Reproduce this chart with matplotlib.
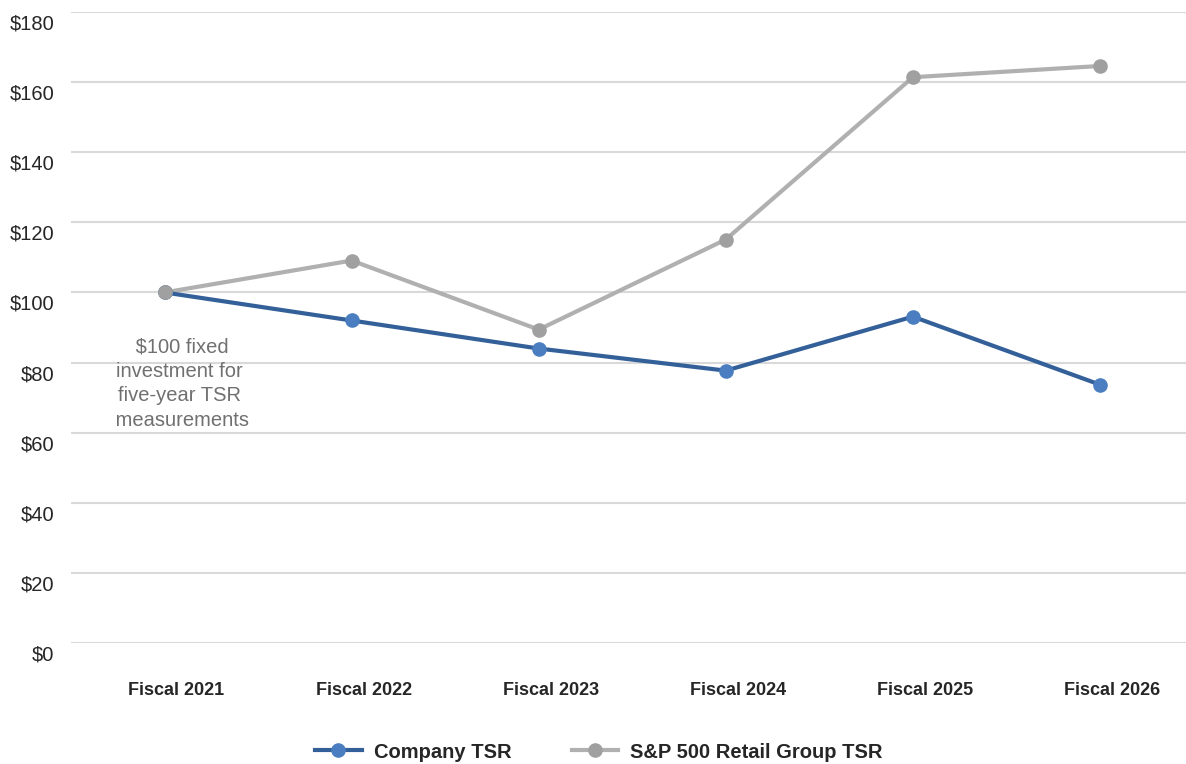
import matplotlib.pyplot as plt
import matplotlib.transforms as mtransforms

plt.rcParams['font.family'] = ['Liberation Sans', 'DejaVu Sans']

years = ["Fiscal 2021", "Fiscal 2022", "Fiscal 2023", "Fiscal 2024", "Fiscal 2025", "Fiscal 2026"]
company_tsr = [100, 92, 84, 77.7, 93.1, 73.7]
retail_tsr = [100, 109.1, 89.4, 115.1, 161.4, 164.6]
y_ticks = [0, 20, 40, 60, 80, 100, 120, 140, 160, 180]
y_labels = ["$" + str(v) for v in y_ticks]

fig = plt.figure(figsize=(11.86, 7.64), dpi=100)
ax = fig.add_axes([71 / 1186, 121 / 764, 1115 / 1186, 631 / 764])

x = list(range(len(years)))
ax.plot(x, company_tsr, color="#34609a", linewidth=3, marker="o", markersize=9.5,
        markerfacecolor="#4a7ec0", markeredgecolor="#4a7ec0", label="Company TSR", zorder=3)
ax.plot(x, retail_tsr, color="#b0b0b0", linewidth=3, marker="o", markersize=9.5,
        markerfacecolor="#a0a0a0", markeredgecolor="#a0a0a0", label="S&P 500 Retail Group TSR", zorder=2)
# grey point sits on top at the shared start
ax.plot([0], [retail_tsr[0]], "o", color="#a0a0a0", markersize=9.5, zorder=4)

ax.set_xlim(-0.5, 5.46)
ax.set_ylim(0, 180)
ax.set_xticks(x)
ax.set_xticklabels(years, fontsize=13, fontweight="bold", color="#262626")
ax.set_yticks(y_ticks)
ax.set_yticklabels(y_labels, fontsize=14.5, color="#262626")
ax.tick_params(length=0)
ax.tick_params(axis="x", pad=28)
ax.tick_params(axis="y", pad=12)

# labels sit a bit off their grid positions in the reference
y_off = mtransforms.ScaledTranslation(0, -10 / 100, fig.dpi_scale_trans)
for lab in ax.get_yticklabels():
    lab.set_transform(lab.get_transform() + y_off)
x_off = mtransforms.ScaledTranslation(12 / 100, 0, fig.dpi_scale_trans)
for lab in ax.get_xticklabels():
    lab.set_transform(lab.get_transform() + x_off)

ax.grid(axis="y", color="#d9d9d9", linewidth=1.5)
ax.set_axisbelow(True)
for s in ax.spines.values():
    s.set_visible(False)

ax.text(0.08, 74.0, " $100 fixed\ninvestment for\nfive-year TSR\n measurements",
        ha="center", va="center", fontsize=14.5, color="#707070", linespacing=1.38)

fig.legend(loc="center", bbox_to_anchor=(0.505, 12 / 764), ncol=2, frameon=False,
           prop={"size": 14.5, "weight": "bold"}, handlelength=2.3, handletextpad=0.6,
           columnspacing=3, labelcolor="#262626")

fig.savefig("out.png", dpi=100)
